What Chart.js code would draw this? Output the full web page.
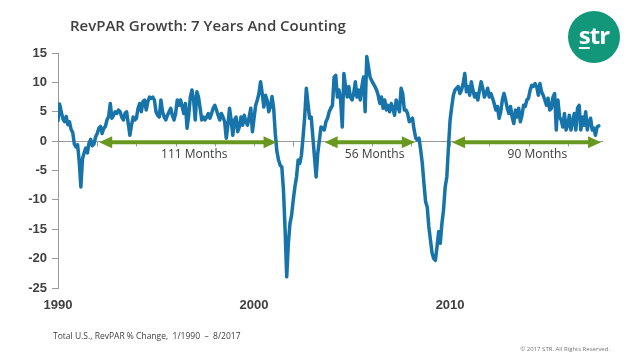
<!DOCTYPE html>
<html>
<head>
<meta charset="utf-8">
<script src="https://cdn.jsdelivr.net/npm/chart.js@4.4.1/dist/chart.umd.min.js"></script>
<style>
  html, body { margin: 0; padding: 0; background: #fff; }
  #wrap { position: relative; width: 640px; height: 361px; overflow: hidden; background: #fff; }
  #chart { position: absolute; left: 0; top: 0; }
  .title { position: absolute; left: 70px; top: 15px; font: 600 15px "Open Sans", sans-serif; color: #404040; white-space: nowrap; }
  .note { position: absolute; left: 53px; top: 330px; font: 8.5px "Open Sans", sans-serif; color: #404040; white-space: nowrap; }
  .copy { position: absolute; right: 30px; top: 345px; font: 6px "Open Sans", sans-serif; color: #777; white-space: nowrap; }
  .logo { position: absolute; left: 568px; top: 11px; width: 52px; height: 52px; border-radius: 50%; background: #13977a;
          color: #fff; font: bold 24px "Open Sans", sans-serif; text-align: center; line-height: 48px; letter-spacing: -1px; }
  .logo u { text-decoration-thickness: 2px; text-underline-offset: 3px; }
</style>
</head>
<body>
<div id="wrap">
  <canvas id="chart" width="640" height="361"></canvas>
  <div class="title">RevPAR Growth: 7 Years And Counting</div>
  <div class="logo"><u>s</u>tr</div>
  <div class="note">Total U.S., RevPAR % Change,&nbsp; 1/1990 &nbsp;&ndash;&nbsp; 8/2017</div>
  <div class="copy">&copy; 2017 STR. All Rights Reserved.</div>
</div>
<script>
// Monthly RevPAR % change, Jan 1990 - Aug 2017 (one row per year)
const firstYear = 1990;
const revparChange = [
  3.5, 6.3, 5.0, 3.8, 3.3, 4.2, 2.8, 3.3, 2.0, 1.5, -0.5, -1.0,
  -0.6, -3.5, -7.8, -3.0, -2.0, -1.2, -2.0, -0.3, 0.3, -0.8, -0.5, 0.7,
  1.3, 2.2, 2.5, 1.3, 2.2, 2.5, 3.6, 4.2, 6.4, 3.9, 4.4, 5.0,
  4.7, 5.3, 5.0, 4.1, 3.6, 4.7, 5.0, 3.0, 1.0, 2.7, 4.1, 3.6,
  3.9, 5.6, 6.4, 5.0, 6.7, 7.0, 5.3, 6.7, 7.5, 7.3, 7.5, 7.0,
  5.0, 4.4, 4.1, 7.0, 5.0, 4.1, 3.6, 4.4, 5.0, 5.6, 4.4, 3.6,
  4.7, 7.0, 6.1, 7.0, 5.9, 4.7, 6.4, 2.2, 4.4, 7.5, 8.7, 7.0,
  3.6, 8.4, 7.5, 5.6, 3.6, 4.1, 3.6, 4.1, 4.7, 3.9, 4.7, 5.6,
  6.1, 5.3, 4.4, 3.6, 4.7, 4.1, 3.3, 0.5, 2.7, 5.6, 3.6, 1.0,
  3.6, 4.1, 1.6, 2.4, 4.1, 2.7, 4.4, 3.3, 2.7, 4.1, 5.6, 1.6,
  3.9, 6.1, 7.0, 8.1, 10.1, 8.1, 5.8, 7.8, 7.0, 5.0, 5.8, 7.6,
  5.6, 1.3, -1.8, -3.2, -4.1, -4.4, -8.3, -15.0, -23.1, -17.4, -14.0, -12.6,
  -10.0, -7.8, -6.1, -3.2, -3.8, -2.4, 0.7, 4.1, 9.0, 6.4, 3.9, 4.1,
  0.7, -2.7, -6.1, -2.1, 0.2, 2.4, 2.2, 1.9, 3.3, 3.9, 5.0, 5.6,
  6.1, 10.9, 11.2, 7.5, 8.7, 7.0, 2.4, 11.5, 9.3, 7.5, 9.3, 7.5,
  7.0, 8.1, 10.1, 7.5, 8.7, 7.0, 9.3, 10.9, 5.0, 14.4, 12.7, 10.9,
  10.3, 9.8, 9.3, 8.7, 7.8, 6.4, 7.5, 5.6, 7.0, 5.3, 6.1, 5.0,
  6.4, 5.6, 4.4, 7.0, 5.9, 5.0, 9.0, 8.1, 5.3, 5.3, 4.7, 3.3,
  3.6, 3.9, 1.9, 0.5, 0.2, 0.5, -1.5, -3.8, -7.2, -10.3, -11.2, -14.6,
  -16.9, -19.1, -20.0, -20.3, -18.0, -15.4, -17.4, -14.0, -11.7, -7.8, -6.1, -1.0,
  3.6, 5.8, 7.8, 8.7, 9.0, 9.3, 8.1, 8.7, 9.8, 11.5, 8.4, 9.3,
  7.8, 10.1, 8.7, 7.5, 8.1, 7.0, 8.7, 10.1, 9.0, 7.5, 8.1, 9.0,
  7.5, 8.1, 7.3, 6.4, 5.3, 5.9, 3.9, 5.0, 7.0, 8.1, 7.0, 5.6,
  4.7, 5.9, 4.1, 3.0, 5.3, 4.1, 5.6, 3.3, 4.4, 6.1, 5.9, 7.0,
  7.3, 8.7, 9.5, 9.3, 9.8, 9.3, 7.8, 9.8, 8.4, 7.8, 7.0, 6.1,
  7.3, 5.3, 5.6, 7.5, 8.1, 1.9, 7.0, 4.1, 3.6, 2.4, 4.7, 1.9,
  2.7, 4.4, 1.9, 3.3, 4.7, 1.9, 5.6, 6.1, 1.9, 4.1, 2.7, 5.0,
  1.9, 3.3, 3.9, 1.9, 2.2, 1.0, 2.4, 2.6
];

// Axis labels
const xLabelYears = [1990, 2000, 2010];

// Growth streaks (in years) and their labels
const arrowFrom = [1992.1, 2003.6, 2010.1];
const arrowTo = [2001.15, 2008.2, 2017.7];
const arrowLabels = ['111 Months', '56 Months', '90 Months'];
const arrowLabelAt = [1996.95, 2006.15, 2014.45];

const lineBlue = '#1774aa';
const arrowGreen = '#68981f';
const axisGray = '#999999';
const textDark = '#404040';

const points = revparChange.map((v, i) => ({ x: firstYear + i / 12, y: v }));

// zero line with its tick marks, then the green arrows on top of the line
const streakArrows = {
  id: 'streakArrows',
  beforeDatasetsDraw(chart) {
    const { ctx, scales: { x, y } } = chart;
    const y0 = Math.round(y.getPixelForValue(0)) + 0.5;
    ctx.save();
    ctx.strokeStyle = axisGray;
    ctx.lineWidth = 1;
    ctx.beginPath();
    ctx.moveTo(x.left, y0);
    ctx.lineTo(x.right, y0);
    x.ticks.forEach(t => {
      if (t.value === x.min) return;
      const px = Math.round(x.getPixelForValue(t.value)) + 0.5;
      ctx.moveTo(px, y0);
      ctx.lineTo(px, y0 + 5);
    });
    ctx.stroke();
    ctx.restore();
  },
  afterDatasetsDraw(chart) {
    const { ctx, scales: { x, y } } = chart;
    const ya = y.getPixelForValue(0) + 1;
    const head = 13, half = 6;
    ctx.save();
    ctx.strokeStyle = arrowGreen;
    ctx.fillStyle = arrowGreen;
    arrowFrom.forEach((from, i) => {
      const x1 = x.getPixelForValue(from);
      const x2 = x.getPixelForValue(arrowTo[i]);
      ctx.lineWidth = 4;
      ctx.beginPath();
      ctx.moveTo(x1 + head - 1, ya);
      ctx.lineTo(x2 - head + 1, ya);
      ctx.stroke();
      ctx.beginPath();
      ctx.moveTo(x1, ya);
      ctx.lineTo(x1 + head, ya - half);
      ctx.lineTo(x1 + head, ya + half);
      ctx.closePath();
      ctx.fill();
      ctx.beginPath();
      ctx.moveTo(x2, ya);
      ctx.lineTo(x2 - head, ya - half);
      ctx.lineTo(x2 - head, ya + half);
      ctx.closePath();
      ctx.fill();
    });
    ctx.fillStyle = '#3c3c3c';
    ctx.font = '12px "Open Sans", sans-serif';
    ctx.textAlign = 'center';
    ctx.textBaseline = 'middle';
    arrowLabels.forEach((label, i) => {
      ctx.fillText(label, x.getPixelForValue(arrowLabelAt[i]), y.getPixelForValue(-2.35));
    });
    ctx.restore();
  }
};

const tickFont = { family: '"Liberation Sans", Arial, sans-serif', size: 13, weight: 'bold' };

new Chart(document.getElementById('chart'), {
  type: 'line',
  data: {
    datasets: [{
      data: points,
      borderColor: lineBlue,
      borderWidth: 3.5,
      pointRadius: 0,
      fill: false,
      tension: 0,
      borderJoinStyle: 'round',
      borderCapStyle: 'round'
    }]
  },
  options: {
    responsive: false,
    animation: false,
    devicePixelRatio: 1,
    layout: { padding: { top: 53, right: 37, left: 0, bottom: 0 } },
    plugins: { legend: { display: false }, tooltip: { enabled: false } },
    scales: {
      x: {
        type: 'linear',
        min: 1990,
        max: 2017.8,
        grid: { display: false, drawTicks: false },
        border: { display: false },
        ticks: {
          stepSize: 2,
          autoSkip: false,
          includeBounds: false,
          maxRotation: 0,
          padding: 10,
          font: tickFont,
          color: textDark,
          callback: v => xLabelYears.includes(v) ? String(v) : ''
        },
        afterFit: s => { s.height = 73; }
      },
      y: {
        min: -25,
        max: 15,
        ticks: { stepSize: 5, padding: 5, font: tickFont, color: textDark },
        grid: { drawOnChartArea: false, tickLength: 6, tickColor: axisGray },
        border: { color: axisGray },
        afterFit: s => { s.width = 58; }
      }
    }
  },
  plugins: [streakArrows]
});
</script>
</body>
</html>
